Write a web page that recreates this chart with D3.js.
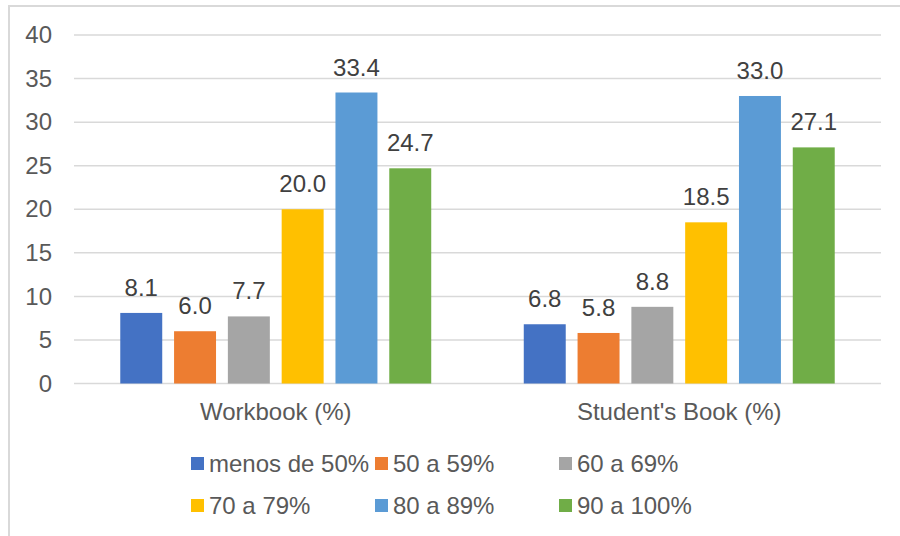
<!DOCTYPE html>
<html>
<head>
<meta charset="utf-8">
<script src="https://cdn.jsdelivr.net/npm/d3@7"></script>
<style>
  body { margin: 0; background: #fff; }
  text { font-family: "Liberation Sans", Arial, sans-serif; }
</style>
</head>
<body>
<div id="chart"></div>
<script>
// Data
var categories = ["Workbook (%)", "Student's Book (%)"];
var seriesNames = ["menos de 50%", "50 a 59%", "60 a 69%", "70 a 79%", "80 a 89%", "90 a 100%"];
var workbookValues = [8.1, 6.0, 7.7, 20.0, 33.4, 24.7];
var studentValues = [6.8, 5.8, 8.8, 18.5, 33.0, 27.1];
var yTicks = [0, 5, 10, 15, 20, 25, 30, 35, 40];

var colors = ["#4472C4", "#ED7D31", "#A5A5A5", "#FFC000", "#5B9BD5", "#70AD47"];

var svgWidth = 900;
var svgHeight = 536;
var fontSize = "24px";

var chartMargin = { top: 35, right: 19, bottom: 152.5, left: 74 };
var chartWidth = svgWidth - chartMargin.left - chartMargin.right;
var chartHeight = svgHeight - chartMargin.top - chartMargin.bottom;

var svg = d3.select("#chart")
    .append("svg")
    .attr("width", svgWidth)
    .attr("height", svgHeight);

// outer frame (only left and top edges are visible)
svg.append("rect")
    .attr("x", 9)
    .attr("y", 6)
    .attr("width", 900)
    .attr("height", 560)
    .attr("fill", "none")
    .attr("stroke", "#d9d9d9")
    .attr("stroke-width", 2);

var chartGroup = svg.append("g")
    .attr("transform", `translate(${chartMargin.left}, ${chartMargin.top})`);

var tableData = categories.map(function (c, i) {
    var vals = i === 0 ? workbookValues : studentValues;
    return { category: c, values: vals.map(function (v, j) { return { name: seriesNames[j], value: v, idx: j }; }) };
});

var x0 = d3.scaleBand()
    .domain(categories)
    .range([0, chartWidth]);

var x1 = d3.scaleBand()
    .domain(seriesNames)
    .range([0, x0.bandwidth()])
    .paddingInner(0.22)
    .paddingOuter(0.86);

var yLinearScale = d3.scaleLinear()
    .domain([0, 40])
    .range([chartHeight, 0]);

// gridlines
chartGroup.append("g")
    .selectAll("line")
    .data(yTicks)
    .enter()
    .append("line")
    .attr("x1", 0)
    .attr("x2", chartWidth)
    .attr("y1", d => yLinearScale(d))
    .attr("y2", d => yLinearScale(d))
    .attr("stroke", "#d9d9d9")
    .attr("stroke-width", 1.5);

// y axis labels
var leftAxis = d3.axisLeft(yLinearScale).tickValues(yTicks).tickSize(0).tickPadding(22);
var yAxisG = chartGroup.append("g").call(leftAxis);
yAxisG.select(".domain").remove();
yAxisG.selectAll("text")
    .attr("fill", "#595959")
    .style("font-size", fontSize)
    .style("font-family", "Liberation Sans, Arial, sans-serif");

// bars
var groups = chartGroup.selectAll(".group")
    .data(tableData)
    .enter()
    .append("g")
    .attr("transform", d => `translate(${x0(d.category)},0)`);

groups.selectAll("rect")
    .data(d => d.values)
    .enter()
    .append("rect")
    .attr("x", d => x1(d.name))
    .attr("width", x1.bandwidth())
    .attr("y", d => yLinearScale(d.value))
    .attr("height", d => chartHeight - yLinearScale(d.value))
    .attr("fill", d => colors[d.idx]);

groups.selectAll(".val")
    .data(d => d.values)
    .enter()
    .append("text")
    .attr("class", "val")
    .attr("x", d => x1(d.name) + x1.bandwidth() / 2)
    .attr("y", d => yLinearScale(d.value) - 17)
    .attr("text-anchor", "middle")
    .attr("fill", "#404040")
    .style("font-size", fontSize)
    .text(d => d.value.toFixed(1));

// category labels
var bottomAxis = d3.axisBottom(x0).tickSize(0).tickPadding(19);
var xAxisG = chartGroup.append("g")
    .attr("transform", `translate(0, ${chartHeight})`)
    .call(bottomAxis);
xAxisG.select(".domain").remove();
xAxisG.selectAll("text")
    .attr("fill", "#595959")
    .style("font-size", fontSize)
    .style("font-family", "Liberation Sans, Arial, sans-serif");

// legend
var legend = svg.append("g");
var legendItems = legend.selectAll("g")
    .data(seriesNames)
    .enter()
    .append("g")
    .attr("transform", (d, i) => `translate(${191 + (i % 3) * 184}, ${457 + Math.floor(i / 3) * 42})`);

legendItems.append("rect")
    .attr("width", 13)
    .attr("height", 13)
    .attr("fill", (d, i) => colors[i]);

legendItems.append("text")
    .attr("x", 18)
    .attr("y", 6.5)
    .attr("dy", "0.36em")
    .attr("fill", "#595959")
    .style("font-size", fontSize)
    .text(d => d);
</script>
</body>
</html>
